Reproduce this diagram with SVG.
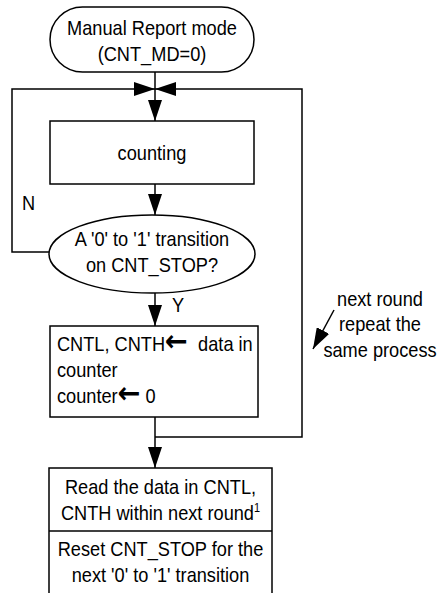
<svg xmlns="http://www.w3.org/2000/svg" width="438" height="593" viewBox="0 0 438 593">
<style>
  .shape { fill: #fff; stroke: #000; stroke-width: 1.5; }
  .line { fill: none; stroke: #000; stroke-width: 1.5; }
  text { font-family: "Liberation Sans", Arial, sans-serif; font-size: 20px; fill: #000; }
  .c { text-anchor: middle; }
  .arr { font-family: "DejaVu Sans", "Liberation Sans", sans-serif; font-weight: bold; font-size: 30px; }
  .pre { white-space: pre; }
</style>
<defs>
  <marker id="ah" markerUnits="userSpaceOnUse" markerWidth="22" markerHeight="14" refX="21" refY="7" orient="auto">
    <path d="M0,0 L21,7 L0,14 Z" fill="#000"/>
  </marker>
</defs>
<rect width="438" height="593" fill="#fff"/>

<g id="connectors">
  <line class="line" x1="155" y1="72" x2="155" y2="121" marker-end="url(#ah)"/>
  <polyline class="line" points="49,252 12,252 12,89 155,89" marker-end="url(#ah)"/>
  <polyline class="line" points="155,437 302,437 302,89 155,89" marker-end="url(#ah)"/>
  <line class="line" x1="155" y1="184" x2="155" y2="215" marker-end="url(#ah)"/>
  <line class="line" x1="155" y1="293" x2="155" y2="326" marker-end="url(#ah)"/>
  <line class="line" x1="155" y1="417" x2="155" y2="468" marker-end="url(#ah)"/>
  <line class="line" x1="334" y1="310" x2="313" y2="349" marker-end="url(#ah)"/>
  <text x="22" y="210" transform="translate(1.98,0) scale(0.91,1)">N</text>
  <text x="172" y="312" transform="translate(15.48,0) scale(0.91,1)">Y</text>
</g>

<g id="start">
  <rect class="shape" x="50" y="7" width="204" height="65" rx="32.5" ry="32.5"/>
  <g transform="translate(13.68,0) scale(0.91,1)">
    <text class="c" x="152" y="35">Manual Report mode</text>
    <text class="c" x="152" y="61">(CNT_MD=0)</text>
  </g>
</g>

<g id="counting">
  <rect class="shape" x="50" y="121" width="204" height="63"/>
  <text class="c" x="152" y="160" transform="translate(13.68,0) scale(0.91,1)">counting</text>
</g>

<g id="decision">
  <ellipse class="shape" cx="152" cy="254" rx="103" ry="39"/>
  <g transform="translate(13.68,0) scale(0.91,1)">
    <text class="c" x="152" y="246">A '0' to '1' transition</text>
    <text class="c" x="152" y="272">on CNT_STOP?</text>
  </g>
</g>

<g id="latch">
  <rect class="shape" x="50" y="326" width="208" height="91"/>
  <g transform="translate(5.13,0) scale(0.91,1)">
    <text class="pre" xml:space="preserve" x="57" y="351">CNTL, CNTH<tspan class="arr">←</tspan>  data in</text>
    <text x="57" y="377">counter</text>
    <text class="pre" xml:space="preserve" x="57" y="403">counter<tspan class="arr">←</tspan> 0</text>
  </g>
</g>

<g id="read">
  <rect class="shape" x="49" y="468" width="223" height="140"/>
  <line class="line" x1="49" y1="531" x2="272" y2="531"/>
  <g transform="translate(14.45,0) scale(0.91,1)">
    <text class="c" x="160.5" y="494">Read the data in CNTL,</text>
    <text class="c" x="160.5" y="520">CNTH within next round<tspan font-size="12" dy="-8">1</tspan></text>
    <text class="c" x="160.5" y="556">Reset CNT_STOP for the</text>
    <text class="c" x="160.5" y="582">next '0' to '1' transition</text>
  </g>
</g>

<g id="note">
  <g transform="translate(34.2,0) scale(0.91,1)">
    <text class="c" x="380" y="306">next round</text>
    <text class="c" x="380" y="331">repeat the</text>
    <text class="c" x="380" y="357">same process</text>
  </g>
</g>
</svg>
